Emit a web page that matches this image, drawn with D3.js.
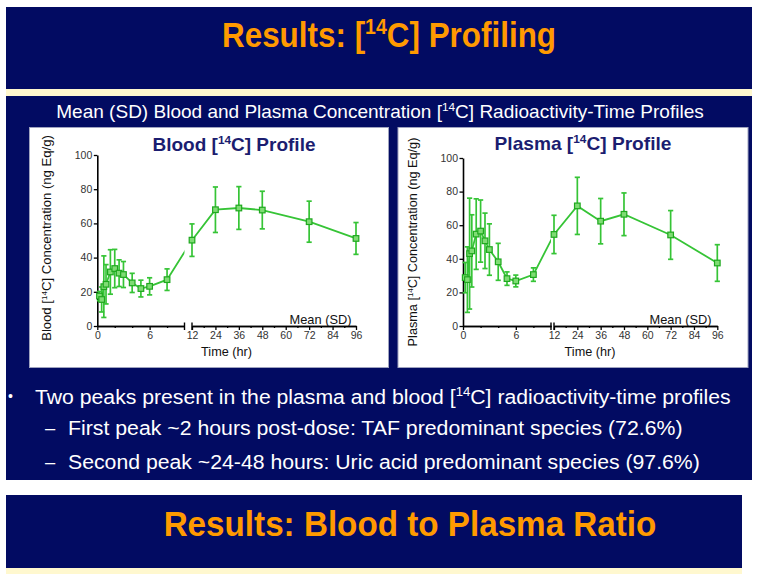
<!DOCTYPE html>
<html><head><meta charset="utf-8">
<script src="https://cdnjs.cloudflare.com/ajax/libs/d3/7.8.5/d3.min.js"></script>
<style>html,body{margin:0;padding:0;background:#fff;} svg{display:block;}</style>
</head><body>
<script>
// ---------- DATA ----------
const hours      = [0.25, 0.5, 0.75, 1, 1.5, 2, 2.5, 3, 4, 5, 6, 8, 12, 24, 36, 48, 72, 96];
const bloodMean  = [17.5, 15.5, 23, 24.4, 31.6, 33.6, 30.9, 30.1, 25.2, 21.9, 23.2, 27.1, 50.2, 68, 69, 67.8, 61, 51.2];
const bloodSD    = [2.7, 7.3, 18, 11.5, 13, 11.2, 7.8, 7.6, 5.6, 4.9, 5, 6.3, 9.5, 13.3, 12.5, 11, 12, 9.3];
const plasmaMean = [28.8, 27.6, 43.1, 44.7, 54.7, 56.5, 50.7, 45.5, 38.2, 28.2, 26.8, 30.6, 54.5, 71.5, 62.4, 66.5, 54.2, 37.5];
const plasmaSD   = [9, 19.5, 33, 21.5, 21, 18.5, 16.5, 15.3, 11, 4, 3.5, 4, 11.4, 17, 13.5, 12.7, 14.5, 10.9];
const yTicks       = [0, 20, 40, 60, 80, 100];
const xTicksEarly  = [0, 6];
const xMinorEarly  = [2, 4, 8];
const xTicksLate   = [12, 24, 36, 48, 60, 72, 84, 96];
const xMinorLate   = [18, 30, 42, 54, 66, 78, 90];
const earlyDomain  = [0, 10];
const lateDomain   = [12, 96];

// ---------- STYLE ----------
const NAVY = "#020b62", CREAM = "#fff8cf", ORANGE = "#ff9a00", GREEN = "#36c436", GREEN_D = "#1fa81f";
const SANS = "'Liberation Sans',Arial,Helvetica,sans-serif";

const svg = d3.select("body").append("svg").attr("width", 772).attr("height", 574);

// slide backgrounds
svg.append("rect").attr("x", 6).attr("y", 7).attr("width", 746).attr("height", 82).attr("fill", NAVY);
svg.append("rect").attr("x", 6).attr("y", 89).attr("width", 746).attr("height", 7).attr("fill", CREAM);
svg.append("rect").attr("x", 6).attr("y", 96).attr("width", 746).attr("height", 384).attr("fill", NAVY);
svg.append("rect").attr("x", 6).attr("y", 495).attr("width", 736).attr("height", 73).attr("fill", NAVY);
svg.append("rect").attr("x", 6).attr("y", 568).attr("width", 736).attr("height", 6).attr("fill", CREAM);

// rich text helper: parts = [[string, isSuperscript], ...]
function rich(parent, parts, o) {
  const g = parent.append("g").attr("transform", `translate(${o.x},${o.y}) rotate(${o.rotate || 0})`);
  const t = g.append("text")
    .attr("text-anchor", o.anchor || "middle")
    .attr("font-family", o.family || SANS)
    .attr("font-size", o.size)
    .attr("font-weight", o.weight || "normal")
    .attr("fill", o.fill || "#000");
  const shift = o.size * 0.36;
  let raised = false;
  parts.forEach(([s, sup]) => {
    const ts = t.append("tspan").text(s);
    if (sup) { ts.attr("font-size", o.size * 0.62).attr("dy", -shift); raised = true; }
    else if (raised) { ts.attr("dy", shift); raised = false; }
  });
  if (o.width) {
    const w = t.node().getBBox().width;
    if (w > 0) t.attr("transform", `scale(${o.width / w},1)`);
  }
  return t;
}

// slide titles & text
rich(svg, [["Results: [", 0], ["14", 1], ["C] Profiling", 0]],
  { x: 389, y: 47, size: 35, weight: "bold", fill: ORANGE, width: 334 });
rich(svg, [["Mean (SD) Blood and Plasma Concentration [", 0], ["14", 1], ["C] Radioactivity-Time Profiles", 0]],
  { x: 380, y: 118, size: 18.5, fill: "#fff", width: 648 });
rich(svg, [["•", 0]], { x: 8, y: 401, size: 14, anchor: "start", fill: "#fff" });
rich(svg, [["Two peaks present in the plasma and blood [", 0], ["14", 1], ["C] radioactivity-time profiles", 0]],
  { x: 35, y: 404, size: 21, anchor: "start", fill: "#fff", width: 696 });
rich(svg, [["–", 0]], { x: 45, y: 435, size: 20, anchor: "start", fill: "#fff", width: 11 });
rich(svg, [["First peak ~2 hours post-dose: TAF predominant species (72.6%)", 0]],
  { x: 68, y: 435, size: 21, anchor: "start", fill: "#fff", width: 615 });
rich(svg, [["–", 0]], { x: 45, y: 469, size: 20, anchor: "start", fill: "#fff", width: 11 });
rich(svg, [["Second peak ~24-48 hours: Uric acid predominant species (97.6%)", 0]],
  { x: 68, y: 469, size: 21, anchor: "start", fill: "#fff", width: 632 });
rich(svg, [["Results: Blood to Plasma Ratio", 0]],
  { x: 410, y: 536, size: 35, weight: "bold", fill: ORANGE, width: 493 });

// ---------- CHARTS ----------
const charts = [
  { mean: bloodMean, sd: bloodSD, panel: [29.5, 127.5, 359, 240],
    r1: [97.3, 184.5], r2: [192, 356], yr: [326, 155],
    title: [["Blood [", 0], ["14", 1], ["C] Profile", 0]], titleX: 234, titleY: 151, titleW: 163,
    ylab: [["Blood  [", 0], ["14", 1], ["C] Concentration (ng Eq/g)", 0]], ylabX: 51, ylabY: 238, ylabW: 206,
    timeX: 226.5, meanX: 351.5, id: "b" },
  { mean: plasmaMean, sd: plasmaSD, panel: [398, 127.5, 350, 240],
    r1: [463, 551], r2: [554, 717.3], yr: [326, 158],
    title: [["Plasma [", 0], ["14", 1], ["C] Profile", 0]], titleX: 583, titleY: 150, titleW: 177,
    ylab: [["Plasma [", 0], ["14", 1], ["C] Concentration (ng Eq/g)", 0]], ylabX: 417, ylabY: 242, ylabW: 209,
    timeX: 590, meanX: 711.5, id: "p" }
];

charts.forEach(c => {
  const [px, py, pw, ph] = c.panel;
  svg.append("rect").attr("x", px).attr("y", py).attr("width", pw).attr("height", ph)
    .attr("fill", "#fff").attr("stroke", "#9fa3bf").attr("stroke-width", 1);

  const xa = d3.scaleLinear().domain(earlyDomain).range(c.r1);
  const xb = d3.scaleLinear().domain(lateDomain).range(c.r2);
  const x = t => (t <= 11 ? xa(t) : xb(t));
  const y = d3.scaleLinear().domain([0, 100]).range(c.yr);
  const y0 = y(0);

  const g = svg.append("g");

  // titles / labels
  rich(g, c.title, { x: c.titleX, y: c.titleY, size: 18.5, weight: "bold", fill: "#1b1d70", width: c.titleW });
  rich(g, c.ylab, { x: c.ylabX, y: c.ylabY, size: 12.5, rotate: -90, fill: "#111", width: c.ylabW });
  rich(g, [["Time (hr)", 0]], { x: c.timeX, y: 356, size: 12.5, fill: "#111", width: 51 });
  rich(g, [["Mean (SD)", 0]], { x: c.meanX, y: 323.5, size: 12.5, anchor: "end", fill: "#111", width: 62 });

  // axes
  const styleAxis = sel => {
    sel.selectAll("path.domain").attr("stroke", "#000").attr("stroke-width", 1.6);
    sel.selectAll(".tick line").attr("stroke", "#000").attr("stroke-width", 1.3);
    sel.selectAll("text").attr("font-family", SANS).attr("font-size", 10.5).attr("fill", "#333");
  };
  g.append("g").attr("transform", `translate(${c.r1[0]},0)`)
    .call(d3.axisLeft(y).tickValues(yTicks).tickSize(3.5).tickSizeOuter(0).tickPadding(1.5))
    .call(styleAxis);
  g.append("g").attr("transform", `translate(0,${y0})`)
    .call(d3.axisBottom(xa).tickValues(xTicksEarly).tickSize(4).tickSizeOuter(0).tickPadding(2))
    .call(styleAxis);
  g.append("g").attr("transform", `translate(0,${y0})`)
    .call(d3.axisBottom(xa).tickValues(xMinorEarly).tickSize(2).tickSizeOuter(0).tickFormat(""))
    .call(styleAxis);
  g.append("g").attr("transform", `translate(0,${y0})`)
    .call(d3.axisBottom(xb).tickValues(xTicksLate).tickSize(4).tickSizeOuter(0).tickPadding(2))
    .call(styleAxis);
  g.append("g").attr("transform", `translate(0,${y0})`)
    .call(d3.axisBottom(xb).tickValues(xMinorLate).tickSize(2).tickSizeOuter(0).tickFormat(""))
    .call(styleAxis);
  // break caps
  [c.r1[1], c.r2[0]].forEach(bx => {
    g.append("line").attr("x1", bx).attr("x2", bx).attr("y1", y0 - 3.5).attr("y2", y0 + 4)
      .attr("stroke", "#000").attr("stroke-width", 1.4);
  });

  const data = hours.map((t, i) => ({ t, v: c.mean[i], s: c.sd[i] }));

  // clip for the broken axis
  const clipId = "clip" + c.id;
  const cp = svg.append("clipPath").attr("id", clipId);
  cp.append("rect").attr("x", c.r1[0] - 10).attr("y", 0).attr("width", c.r1[1] - c.r1[0] + 10).attr("height", 574);
  cp.append("rect").attr("x", c.r2[0] - 1).attr("y", 0).attr("width", 400).attr("height", 574);

  g.append("path").datum(data)
    .attr("clip-path", `url(#${clipId})`)
    .attr("d", d3.line().x(d => x(d.t)).y(d => y(d.v)))
    .attr("fill", "none").attr("stroke", GREEN).attr("stroke-width", 1.8);

  // error bars
  const eb = g.append("g").attr("stroke", GREEN).attr("stroke-width", 1.7);
  data.forEach(d => {
    const cx = x(d.t), lo = y(Math.max(0, d.v - d.s)), hi = y(d.v + d.s);
    eb.append("line").attr("x1", cx).attr("x2", cx).attr("y1", lo).attr("y2", hi);
    eb.append("line").attr("x1", cx - 2.6).attr("x2", cx + 2.6).attr("y1", lo).attr("y2", lo);
    eb.append("line").attr("x1", cx - 2.6).attr("x2", cx + 2.6).attr("y1", hi).attr("y2", hi);
  });

  // markers
  g.append("g").selectAll("rect").data(data).join("rect")
    .attr("x", d => x(d.t) - 2.8).attr("y", d => y(d.v) - 2.8)
    .attr("width", 5.6).attr("height", 5.6)
    .attr("fill", "#7fdc74").attr("stroke", GREEN_D).attr("stroke-width", 1.2);
});
</script>
</body></html>
